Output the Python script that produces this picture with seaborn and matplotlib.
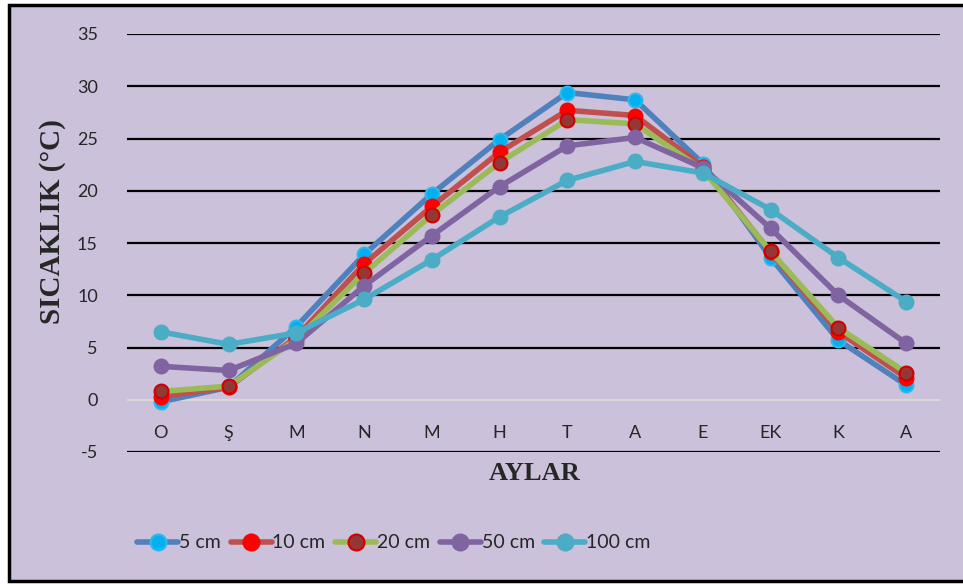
import matplotlib
matplotlib.use('Agg')
import matplotlib.pyplot as plt
from matplotlib.patches import Rectangle
import seaborn as sns
import pandas as pd

# months (Oct -> Sep)
months = ['O', 'Ş', 'M', 'N', 'M', 'H', 'T', 'A', 'E', 'EK', 'K', 'A']

t5 = [-0.2, 1.2, 7.0, 13.9, 19.7, 24.9, 29.4, 28.7, 22.6, 13.6, 5.7, 1.4]
t10 = [0.3, 1.2, 6.0, 13.0, 18.5, 23.7, 27.7, 27.2, 22.3, 14.1, 6.5, 2.1]
t20 = [0.8, 1.3, 5.8, 12.1, 17.7, 22.7, 26.8, 26.4, 22.0, 14.2, 6.9, 2.6]
t50 = [3.2, 2.8, 5.4, 10.9, 15.7, 20.4, 24.3, 25.1, 22.2, 16.4, 10.0, 5.4]
t100 = [6.5, 5.3, 6.4, 9.6, 13.4, 17.5, 21.0, 22.8, 21.7, 18.2, 13.6, 9.4]

series = ['5 cm', '10 cm', '20 cm', '50 cm', '100 cm']
values = [t5, t10, t20, t50, t100]
line_cols = ['#4F81BD', '#C0504D', '#9BBB59', '#8064A2', '#4BACC6']
face_cols = ['#00B0F0', '#FF0000', '#953735', '#8064A2', '#4BACC6']
edge_cols = ['#2FB8E8', '#FF0000', '#D00000', '#8064A2', '#4BACC6']

bg = '#CCC1DA'

sns.set_style('white')
plt.rcParams['font.family'] = ['Lato', 'DejaVu Sans']
plt.rcParams['axes.unicode_minus'] = False

fig = plt.figure(figsize=(9.63, 5.84), dpi=100, facecolor='white')
fig.patches.append(Rectangle((9 / 963, 1 - 581 / 584), 1.0, 576 / 584,
                             transform=fig.transFigure, facecolor=bg,
                             edgecolor='black', lw=2.5, zorder=-1))
ax = fig.add_axes([127 / 963, 1 - 452 / 584, 813 / 963, 418 / 584])
ax.set_facecolor(bg)
ax.patch.set_alpha(0)

for name, v, lc, fc, ec in zip(series, values, line_cols, face_cols, edge_cols):
    df = pd.DataFrame({'x': range(len(months)), 'y': v})
    sns.lineplot(data=df, x='x', y='y', ax=ax, color=lc, lw=4, marker='o',
                 markersize=10, markerfacecolor=fc, markeredgecolor=ec,
                 markeredgewidth=1.5, label=name, sort=False)

ax.set_xlim(-0.5, len(months) - 0.5)
ax.set_ylim(-5, 35)
ax.set_yticks(range(-5, 36, 5))
ax.set_xticks(range(len(months)))
ax.set_xticklabels(months)
for yv in range(-5, 36, 5):
    if yv != 0:
        ax.axhline(yv, color='black', lw=1.6, zorder=0)
ax.axhline(0, color='#D9D9D9', lw=1.5, zorder=0)

for s in ax.spines.values():
    s.set_visible(False)
ax.spines['bottom'].set_position(('data', 0))
ax.tick_params(axis='x', length=0, pad=18, labelsize=13)
ax.tick_params(axis='y', length=0, pad=21, labelsize=13)

ax.set_xlabel('')
ax.set_ylabel('')
fig.text(53 / 963, 1 - 222 / 584, 'SICAKLIK (°C)', rotation=90, ha='center',
         va='center', family='Liberation Serif', weight='bold', fontsize=21)
fig.text(535 / 963, 1 - 474 / 584, 'AYLAR', ha='center', va='center',
         family='Liberation Serif', weight='bold', fontsize=19)

ax.get_legend().remove()
h, l = ax.get_legend_handles_labels()
fig.legend(h, l, loc='center', bbox_to_anchor=(394 / 963, 1 - 543 / 584),
           ncol=5, frameon=False, fontsize=14, handlelength=2.1,
           handletextpad=0.05, columnspacing=0.5, markerscale=1.15)

fig.savefig('out.png', dpi=100, facecolor='white')
